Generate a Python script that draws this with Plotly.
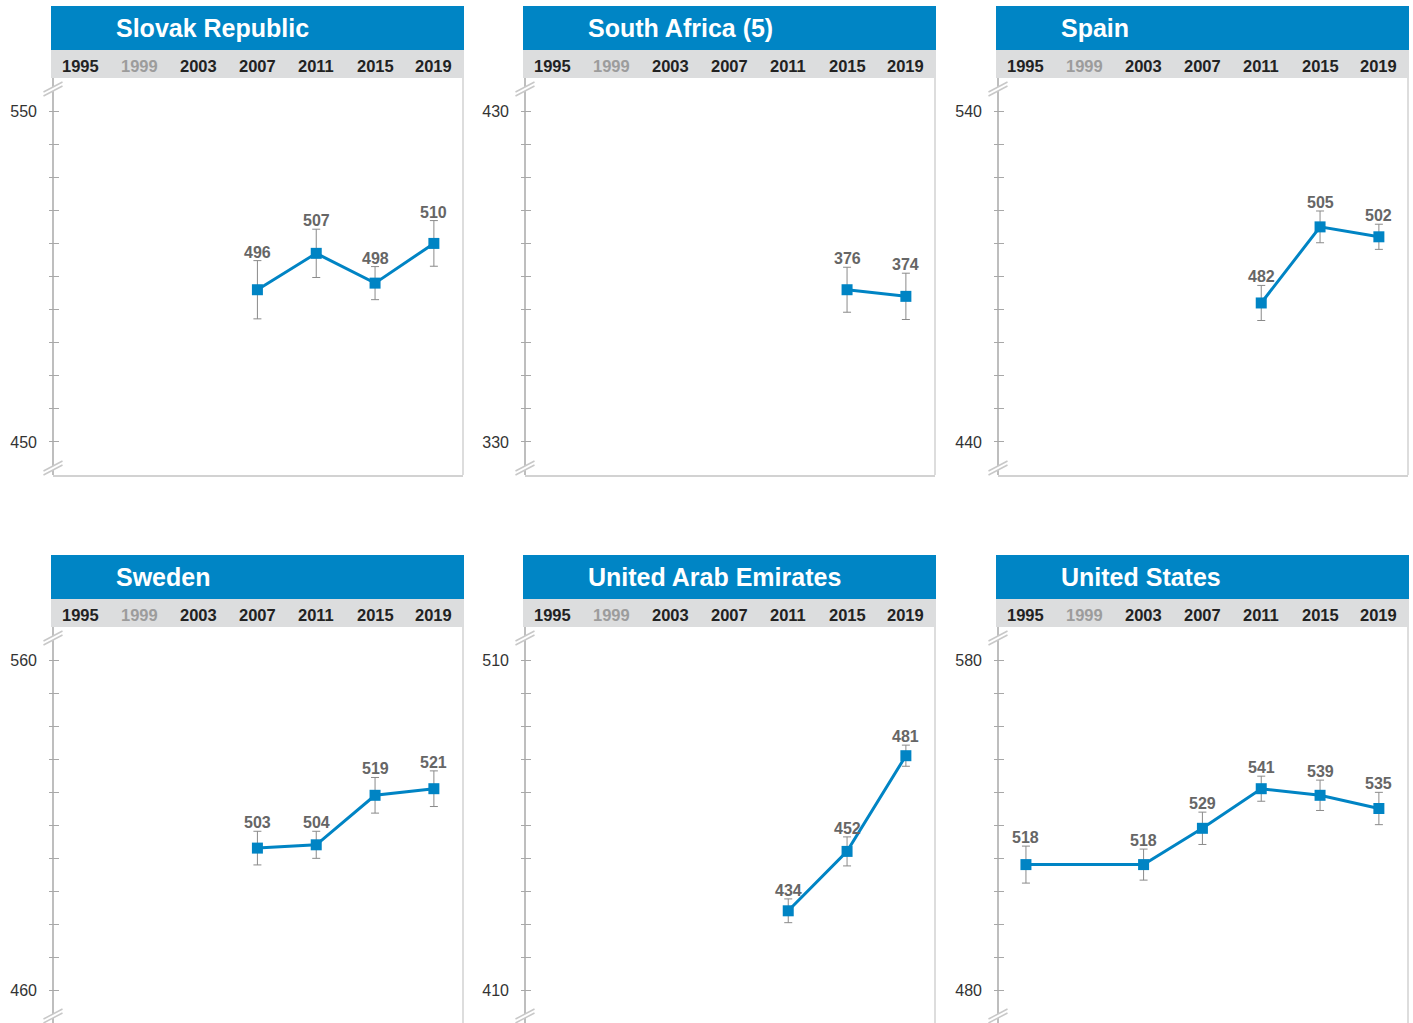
import plotly.graph_objects as go

# ---- data -------------------------------------------------------------
cycle_years = [1995, 1999, 2003, 2007, 2011, 2015, 2019]

countries = ["Slovak Republic", "South Africa (5)", "Spain",
             "Sweden", "United Arab Emirates", "United States"]

slovak_years = [2007, 2011, 2015, 2019]
slovak_scores = [496, 507, 498, 510]
slovak_ci = [8.8, 7.3, 5.0, 6.9]

south_africa_years = [2015, 2019]
south_africa_scores = [376, 374]
south_africa_ci = [6.8, 7.0]

spain_years = [2011, 2015, 2019]
spain_scores = [482, 505, 502]
spain_ci = [5.3, 4.8, 3.8]

sweden_years = [2007, 2011, 2015, 2019]
sweden_scores = [503, 504, 519, 521]
sweden_ci = [5.1, 4.1, 5.4, 5.4]

uae_years = [2011, 2015, 2019]
uae_scores = [434, 452, 481]
uae_ci = [3.6, 4.4, 3.2]

us_years = [1995, 2003, 2007, 2011, 2015, 2019]
us_scores = [518, 518, 529, 541, 539, 535]
us_ci = [5.6, 4.7, 4.9, 3.8, 4.6, 4.9]

# lower end of each panel's score scale (each spans 120 points)
axis_floor = [440, 320, 430, 450, 400, 470]

panels = [
    (countries[0], slovak_years, slovak_scores, slovak_ci, axis_floor[0]),
    (countries[1], south_africa_years, south_africa_scores, south_africa_ci, axis_floor[1]),
    (countries[2], spain_years, spain_scores, spain_ci, axis_floor[2]),
    (countries[3], sweden_years, sweden_scores, sweden_ci, axis_floor[3]),
    (countries[4], uae_years, uae_scores, uae_ci, axis_floor[4]),
    (countries[5], us_years, us_scores, us_ci, axis_floor[5]),
]

# ---- styling / geometry (pixels) ---------------------------------------
W, H = 1413, 1023
COL_LEFT = [51, 523, 996]
ROW_TOP = [6, 555]
PANEL_W = 413
BLUE = "#0084C4"
HEADER_BLUE = "#0085C5"
BAND_GREY = "#DCDDDE"
AXIS_GREY = "#A8A8A8"
BORDER_GREY = "#D2D2D2"
FONT = "Liberation Sans, Arial, sans-serif"
SPAN = 120


def fx(p):
    return p / W


def fy(p):
    return 1 - p / H


fig = go.Figure()
shapes, annotations = [], []
layout_axes = {}

for i, (name, yrs, vals, errs, ymin) in enumerate(panels):
    r, c = divmod(i, 3)
    L, T = COL_LEFT[c], ROW_TOP[r]
    n = i + 1
    xa = "x" if n == 1 else f"x{n}"
    ya = "y" if n == 1 else f"y{n}"
    plot_top = T + 72
    plot_bot = min(T + 469, H)
    ax_x = L + 2

    fig.add_trace(go.Scatter(
        x=yrs, y=vals, xaxis=xa, yaxis=ya, mode="lines+markers",
        line=dict(color=BLUE, width=3),
        marker=dict(symbol="square", size=11, color=BLUE),
        error_y=dict(type="data", array=errs, color="#8A8A8A", thickness=1, width=4),
        hoverinfo="skip", showlegend=False,
    ))

    tickvals = list(range(ymin, ymin + SPAN + 1, 10))
    ticktext = [str(v) if v in (ymin + 10, ymin + SPAN - 10) else "" for v in tickvals]

    layout_axes[f"xaxis{n}"] = dict(
        domain=[fx(L + 2), fx(L + 412)], range=[1993.1, 2020.98], anchor=ya,
        showgrid=False, zeroline=False, showticklabels=False, ticks="",
        showline=True, linecolor=BORDER_GREY, linewidth=1.5, fixedrange=True,
    )
    layout_axes[f"yaxis{n}"] = dict(
        domain=[fy(plot_bot), fy(plot_top)], range=[ymin, ymin + SPAN],
        anchor="free", position=fx(ax_x - 5),
        tickmode="array", tickvals=tickvals, ticktext=ticktext,
        ticks="inside", ticklen=10, tickwidth=1, tickcolor=AXIS_GREY,
        tickfont=dict(family=FONT, size=16, color="#333333"),
        ticklabelstandoff=11,
        showline=False, showgrid=False, zeroline=False, fixedrange=True,
    )

    # header bands
    shapes.append(dict(type="rect", xref="paper", yref="paper",
                       x0=fx(L), x1=fx(L + PANEL_W), y0=fy(T + 44), y1=fy(T),
                       fillcolor=HEADER_BLUE, line=dict(width=0), layer="below"))
    shapes.append(dict(type="rect", xref="paper", yref="paper",
                       x0=fx(L), x1=fx(L + PANEL_W), y0=fy(T + 72), y1=fy(T + 44),
                       fillcolor=BAND_GREY, line=dict(width=0), layer="below"))
    # right border of plot area
    shapes.append(dict(type="line", xref="paper", yref="paper",
                       x0=fx(L + 412), x1=fx(L + 412), y0=fy(plot_bot), y1=fy(plot_top),
                       line=dict(color=BORDER_GREY, width=1.5)))
    # vertical score axis line
    shapes.append(dict(type="line", xref="paper", yref="paper",
                       x0=fx(ax_x), x1=fx(ax_x), y0=fy(plot_bot), y1=fy(plot_top),
                       line=dict(color=AXIS_GREY, width=1.5)))
    # axis break marks
    for cy in (plot_top + 11, plot_bot - 7):
        hx, hy, g = 9.5, 5.0, 2.0
        pts = [(ax_x - hx, cy + hy - g), (ax_x + hx, cy - hy - g),
               (ax_x + hx, cy - hy + g), (ax_x - hx, cy + hy + g)]
        path = "M " + " L ".join(f"{fx(px)},{fy(py)}" for px, py in pts) + " Z"
        shapes.append(dict(type="path", xref="paper", yref="paper", path=path,
                           fillcolor="white", line=dict(width=0), layer="above"))
        for off in (-g, g):
            shapes.append(dict(type="line", xref="paper", yref="paper",
                               x0=fx(ax_x - hx), y0=fy(cy + hy + off),
                               x1=fx(ax_x + hx), y1=fy(cy - hy + off),
                               line=dict(color="#C8C8C8", width=1.5), layer="above"))

    # title
    annotations.append(dict(xref="paper", yref="paper", x=fx(L + 63), y=fy(T + 22),
                            xanchor="left", yanchor="middle", showarrow=False,
                            text=f"<b>{name}</b>",
                            font=dict(family=FONT, size=25, color="white")))
    # cycle year labels
    for yr in cycle_years:
        col = "#9C9C9C" if yr == 1999 else "#222222"
        annotations.append(dict(xref=xa, yref="paper", x=yr, y=fy(T + 60),
                                xanchor="center", yanchor="middle", showarrow=False,
                                text=f"<b>{yr}</b>",
                                font=dict(family=FONT, size=16.5, color=col)))
    # value labels above the confidence whiskers
    for yr, v, e in zip(yrs, vals, errs):
        annotations.append(dict(xref=xa, yref=ya, x=yr, y=v + e,
                                xanchor="center", yanchor="bottom", showarrow=False,
                                yshift=-2, text=f"<b>{v}</b>",
                                font=dict(family=FONT, size=16, color="#666666")))

layout_axes["xaxis"] = layout_axes.pop("xaxis1")
layout_axes["yaxis"] = layout_axes.pop("yaxis1")

fig.update_layout(
    width=W, height=H, margin=dict(l=0, r=0, t=0, b=0),
    paper_bgcolor="white", plot_bgcolor="white",
    shapes=shapes, annotations=annotations, showlegend=False,
    **layout_axes,
)

fig.write_html("out.html", config={"displayModeBar": False})
